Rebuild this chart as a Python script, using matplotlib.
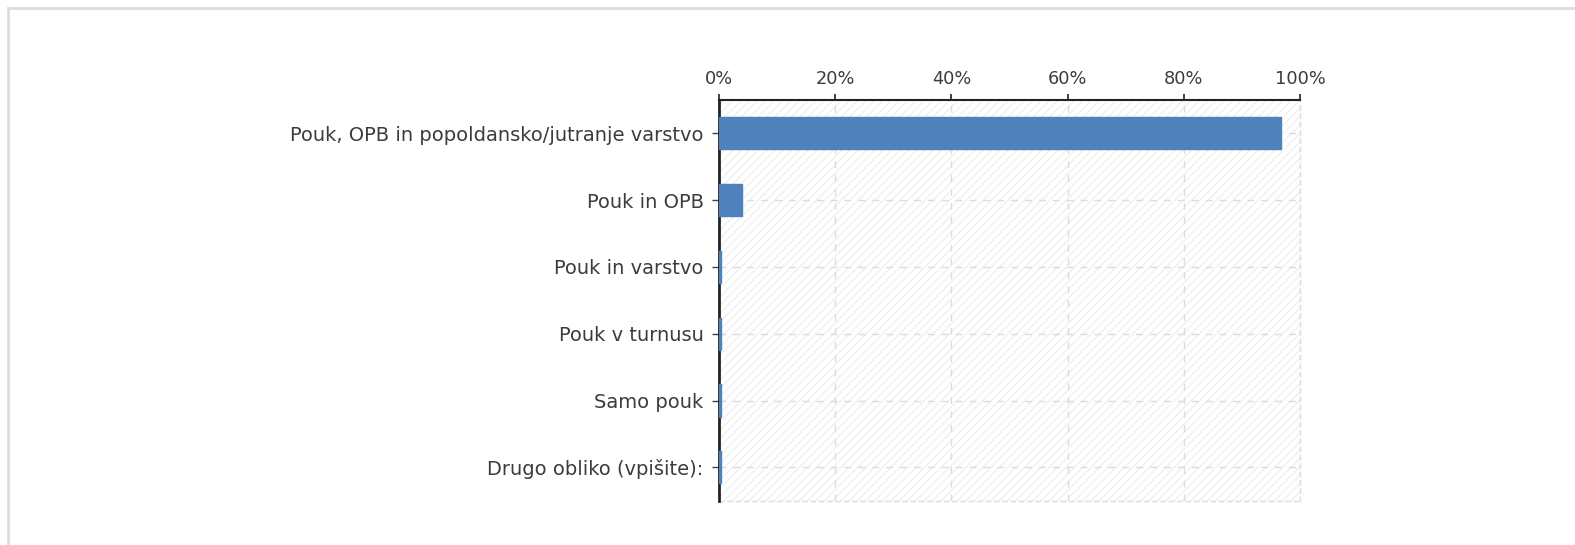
import matplotlib.pyplot as plt
from matplotlib.lines import Line2D
from matplotlib.patches import Rectangle
from matplotlib.ticker import FuncFormatter

# Podatki (deleži v %)
kategorije = [
    "Pouk, OPB in popoldansko/jutranje varstvo",
    "Pouk in OPB",
    "Pouk in varstvo",
    "Pouk v turnusu",
    "Samo pouk",
    "Drugo obliko (vpišite):",
]
delezi = [96.8, 3.9, 0.4, 0.4, 0.4, 0.4]
x_oznake = [0, 20, 40, 60, 80, 100]

MODRA = "#4f81bd"
SIVA_MREZA = "#dcdcdc"
BARVA_TEKSTA = "#3c3c3c"

plt.rcParams["font.family"] = "DejaVu Sans"
plt.rcParams["hatch.linewidth"] = 1.0

fig = plt.figure(figsize=(15.75, 5.45), dpi=100)
ax = fig.add_axes([0.4565, 0.0813, 0.3689, 0.7352])

# ozadje s šrafuro
ax.add_patch(Rectangle((0, 0), 1, 1, transform=ax.transAxes, facecolor="white",
                       hatch="////", edgecolor="#f0f0f0", linewidth=0, zorder=0))

pozicije = list(range(len(kategorije)))
ax.barh(pozicije, delezi, height=0.48, color=MODRA, edgecolor=MODRA,
        linewidth=1, zorder=5)

ax.set_xlim(0, 100)
ax.set_ylim(len(kategorije) - 0.5, -0.5)
ax.set_yticks(pozicije)
ax.set_yticklabels(kategorije)
ax.set_xticks(x_oznake)
ax.xaxis.set_major_formatter(FuncFormatter(lambda v, _: f"{v:.0f}%"))

ax.xaxis.tick_top()
ax.tick_params(axis="x", direction="out", length=4, width=1.2, color="#222222",
               labelsize=12.8, labelcolor=BARVA_TEKSTA, pad=5)
ax.tick_params(axis="y", direction="out", length=5, width=1, color="#444444",
               labelsize=14, labelcolor=BARVA_TEKSTA, pad=6)

ax.grid(True, color=SIVA_MREZA, linestyle=(0, (5, 5)), linewidth=1, zorder=1)
ax.set_axisbelow(True)

ax.spines["top"].set_color("#222222")
ax.spines["top"].set_linewidth(1.5)
ax.spines["left"].set_color("#222222")
ax.spines["left"].set_linewidth(2)
ax.spines["left"].set_zorder(4)
for s in ("right", "bottom"):
    ax.spines[s].set_color(SIVA_MREZA)
    ax.spines[s].set_linestyle((0, (3, 3)))
    ax.spines[s].set_linewidth(1)

# okvir slike (levo in zgoraj)
fig.add_artist(Line2D([8 / 1575, 8 / 1575], [0, 1 - 8 / 545], color="#dddddd",
                      linewidth=2, transform=fig.transFigure))
fig.add_artist(Line2D([8 / 1575, 1], [1 - 8 / 545, 1 - 8 / 545], color="#dddddd",
                      linewidth=2, transform=fig.transFigure))

fig.savefig("out.png", dpi=100)
